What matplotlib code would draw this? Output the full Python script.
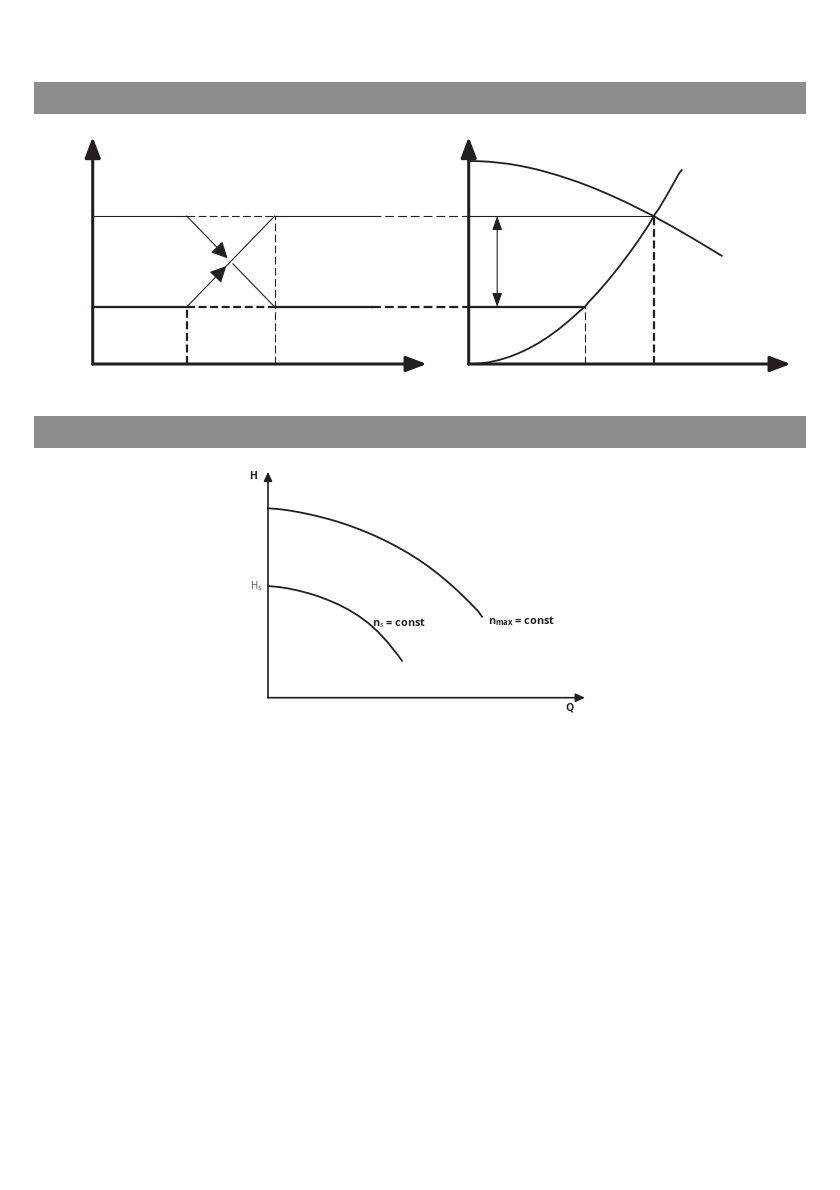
import matplotlib
matplotlib.use('Agg')
import matplotlib.pyplot as plt
from matplotlib.patches import Rectangle

plt.rcParams['font.family'] = ['Open Sans', 'DejaVu Sans']
plt.rcParams['mathtext.fontset'] = 'custom'
plt.rcParams['mathtext.rm'] = 'Open Sans'
plt.rcParams['mathtext.it'] = 'Open Sans:italic'
plt.rcParams['mathtext.bf'] = 'Open Sans:bold'

INK = '#231f20'
BAR = '#8c8c8c'

# ---- data (units: arbitrary, 1 unit ~ 10 px) ----
# top diagrams: two head levels and two flow values
h_levels = [5.7, 14.8]          # low / high head
q_left = [9.4, 18.2]            # switch points in the left diagram
solid_end = 27.9                # where the solid level lines turn dashed
right_origin = 37.6             # x position of the right diagram's origin
q_right = [11.6, 18.5]          # operating flows on the right diagram

# pump curve (right diagram)
pump_q = [0, 1, 2, 3, 4, 5, 6, 7, 8, 9, 10, 11, 12, 13, 14, 15, 16, 17, 18, 18.5,
          19, 20, 21, 22, 23, 24, 25, 25.3]
pump_h = [20.3, 20.28, 20.23, 20.13, 20.01, 19.84, 19.64, 19.41, 19.13, 18.84, 18.51,
          18.17, 17.79, 17.39, 16.96, 16.51, 16.04, 15.54, 15.03, 14.8,
          14.49, 13.95, 13.38, 12.8, 12.21, 11.61, 11.0, 10.82]

# system curve (right diagram)
sys_q = [0, 1, 2, 3, 4, 5, 6, 7, 8, 9, 10, 11, 11.6, 12, 13, 14, 15, 16, 17, 18, 18.5,
         19, 20, 21, 21.3]
sys_h = [0, 0.04, 0.17, 0.39, 0.69, 1.08, 1.55, 2.1, 2.75, 3.48, 4.3, 5.2, 5.7, 6.19,
         7.27, 8.43, 9.68, 11.0, 12.4, 13.9, 14.8, 15.5, 17.2, 19.0, 19.4]

# bottom diagram curves
nmax_q = [0, 1, 2, 3, 4, 5, 6, 7, 8, 9, 10, 11, 12, 13, 14, 15, 16, 17, 18, 19, 20, 21, 21.4]
nmax_h = [18.94, 18.87, 18.74, 18.57, 18.37, 18.14, 17.88, 17.59, 17.26, 16.89, 16.49,
          16.05, 15.57, 15.04, 14.47, 13.84, 13.15, 12.39, 11.56, 10.66, 9.69, 8.66, 8.1]
ns_q = [0, 1, 2, 3, 4, 5, 6, 7, 8, 9, 10, 11, 12, 13, 13.4]
ns_h = [11.17, 11.08, 10.93, 10.72, 10.46, 10.15, 9.77, 9.34, 8.83, 8.22, 7.49, 6.59,
        5.5, 4.25, 3.69]


def place_axes(fig, x0_px, y0_px, xlim, ylim):
    # axes where 1 data unit = 10 px, origin at page pixel (x0_px, y0_px)
    W, H = 840.0, 1190.0
    left = (x0_px + xlim[0] * 10) / W
    bottom = (H - y0_px + ylim[0] * 10) / H
    width = (xlim[1] - xlim[0]) * 10 / W
    height = (ylim[1] - ylim[0]) * 10 / H
    ax = fig.add_axes([left, bottom, width, height])
    ax.set_xlim(xlim)
    ax.set_ylim(ylim)
    ax.axis('off')
    return ax


def arrow(ax, start, end, lw, scale, hl, hw, style='-|>'):
    ax.annotate('', xy=end, xytext=start,
                arrowprops=dict(arrowstyle='%s,head_length=%s,head_width=%s' % (style, hl, hw),
                                lw=lw, color=INK, mutation_scale=scale,
                                shrinkA=0, shrinkB=0))


fig = plt.figure(figsize=(8.4, 11.9), dpi=100)

# grey header bars
for top_px in [82, 416]:
    fig.add_artist(Rectangle((34 / 840, 1 - (top_px + 32) / 1190), 772 / 840, 32 / 1190,
                             transform=fig.transFigure, color=BAR, lw=0))

# ---------------- top: two diagrams ----------------
ax = place_axes(fig, 92.7, 364, (-2, 72), (-2, 25))
lo, hi = h_levels
qa, qb = q_left
thin, thick = 0.8, 1.6

# level lines in left diagram
ax.plot([0, qa], [hi, hi], color=INK, lw=thin)
ax.plot([qa, qb], [hi, hi], color=INK, lw=thin, ls=(0, (7, 3)))
ax.plot([qb, solid_end], [hi, hi], color=INK, lw=thin)
ax.plot([solid_end, right_origin], [hi, hi], color=INK, lw=thin, ls=(0, (8, 3.5)))

ax.plot([0, qa], [lo, lo], color=INK, lw=thick)
ax.plot([qa, qb], [lo, lo], color=INK, lw=thick, ls=(0, (3.6, 1.6)))
ax.plot([qb, solid_end], [lo, lo], color=INK, lw=thick)
ax.plot([solid_end, right_origin], [lo, lo], color=INK, lw=thick, ls=(0, (4, 1.8)))

ax.plot([qa, qa], [0, lo], color=INK, lw=thick, ls=(0, (3.6, 1.6)))
ax.plot([qb, qb], [0, hi], color=INK, lw=thin, ls=(0, (7, 3)))

# crossing diagonals with arrows
mq, mh = (qa + qb) / 2, (lo + hi) / 2
tip_down = (qa + (mq - qa) * 0.93, hi + (mh - hi) * 0.93)
arrow(ax, (qa, hi), tip_down, thin, 25, 0.4, 0.2)
ax.plot([mq + (qb - mq) * 0.05, qb], [mh + (lo - mh) * 0.05, lo], color=INK, lw=thin)
tip_up = (qa + (mq - qa) * 0.9, lo + (mh - lo) * 0.9)
arrow(ax, (qa, lo), tip_up, thin, 25, 0.4, 0.2)
ax.plot([tip_up[0], qb], [tip_up[1], hi], color=INK, lw=thin)

# right diagram
r0 = right_origin
ax.plot([r0 + q for q in pump_q], pump_h, color=INK, lw=1.3)
ax.plot([r0 + q for q in sys_q], sys_h, color=INK, lw=1.3)
ax.plot([r0, r0 + q_right[1]], [hi, hi], color=INK, lw=thin)
ax.plot([r0, r0 + q_right[0]], [lo, lo], color=INK, lw=thick)
ax.plot([r0 + q_right[0]] * 2, [0, lo], color=INK, lw=thin, ls=(0, (7, 3)))
ax.plot([r0 + q_right[1]] * 2, [0, hi], color=INK, lw=thick, ls=(0, (3.6, 1.6)))
arrow(ax, (r0 + 2.85, lo), (r0 + 2.85, hi), thin, 10, 0.85, 0.3, style='<|-|>')

# axes of both diagrams
for x0, xend in [(0, 33.4), (r0, r0 + 32.2)]:
    arrow(ax, (x0, 0), (x0, 22.7), 2.2, 25, 0.5, 0.19)
    arrow(ax, (x0, 0), (xend, 0), 2.2, 25, 0.5, 0.19)

# ---------------- bottom: speed curves ----------------
bx = place_axes(fig, 268, 697.7, (-3, 34), (-2, 24))
bx.plot(nmax_q, nmax_h, color=INK, lw=1.3)
bx.plot(ns_q, ns_h, color=INK, lw=1.3)
arrow(bx, (0, 0), (0, 22.6), 1.2, 10, 0.55, 0.25)
arrow(bx, (0, 0), (31.7, 0), 1.2, 10, 0.55, 0.25)

bx.text(-1.45, 22.1, 'H', fontsize=7.5, fontweight='bold', color=INK, ha='center', va='center')
bx.text(30.2, -1.06, 'Q', fontsize=7.5, fontweight='bold', color=INK, ha='center', va='center')
bx.text(-1.0, 11.1, 'H', fontsize=7, color='#555555', ha='right', va='center')
bx.text(-1.0, 10.95, 's', fontsize=5.5, color='#555555', ha='left', va='center')
bx.text(10.4, 7.44, r'n$_{\mathit{s}}$ = const', fontsize=7.8, fontweight='bold', color=INK,
        ha='left', va='center')
bx.text(22.0, 7.7, r'n$_{\mathbf{max}}$ = const', fontsize=7.8, fontweight='bold', color=INK,
        ha='left', va='center')

fig.savefig('out.png', dpi=100)
